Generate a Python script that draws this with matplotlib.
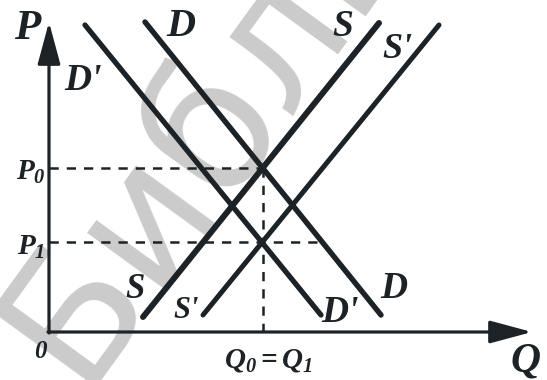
import matplotlib
matplotlib.use("Agg")
import matplotlib.pyplot as plt

# ---- data (quantity q, price p; origin of the diagram at 0,0) ----
D_q = [96, 332]
D_p = [310, 17]
D1_q = [36, 272]
D1_p = [307, 17]
S_q = [94, 330]
S_p = [15, 309]
S1_q = [154, 390]
S1_p = [17, 307]
Q0 = 214
P0 = 164
P1 = 90
P1_dash_end = 268
axis_q_max = 483
axis_p_max = 310

# labels: text, q, p, fontsize
label_text = ["D", "S", "S'", "D'", "S", "S'", "D'", "D"]
label_q = [132, 294, 348, 34, 86, 137, 291, 345]
label_p = [305, 306, 282, 252, 43, 22, 19, 44]
label_size = [29, 27, 26, 27, 25, 22, 27, 27]

ink = "#1c2226"
mpl = matplotlib
mpl.rcParams["mathtext.fontset"] = "custom"
mpl.rcParams["mathtext.rm"] = "Liberation Serif:italic:bold"
mpl.rcParams["mathtext.it"] = "Liberation Serif:italic:bold"
mpl.rcParams["mathtext.bf"] = "Liberation Serif:italic:bold"

fig = plt.figure(figsize=(5.47, 3.8), dpi=100)
ax = fig.add_axes([0, 0, 1, 1])
ax.set_xlim(-49, 498)
ax.set_ylim(-48, 332)
ax.axis("off")

# watermark
ax.text(30, -55, "Библиотека", fontsize=128, color="#cbcbcb", rotation=54,
        rotation_mode="anchor", ha="left", va="baseline",
        family="DejaVu Sans", zorder=0)

# axes with arrows
arrow_style = "-|>,head_length=2.6,head_width=0.7"
ax.annotate("", xy=(0, axis_p_max), xytext=(0, -1),
            arrowprops=dict(arrowstyle=arrow_style, lw=2.3, color=ink,
                            shrinkA=0, shrinkB=0, mutation_scale=10), zorder=3)
ax.annotate("", xy=(axis_q_max, 0), xytext=(-1, 0),
            arrowprops=dict(arrowstyle=arrow_style, lw=2.3, color=ink,
                            shrinkA=0, shrinkB=0, mutation_scale=10), zorder=3)

# dashed guides
dash = dict(color=ink, lw=1.8, dashes=(3.7, 3.2), zorder=2)
ax.plot([0, Q0], [P0, P0], **dash)
ax.plot([0, P1_dash_end], [P1, P1], **dash)
ax.plot([Q0, Q0], [P0, 0], **dash)

# curves
for q, p, w in [(D_q, D_p, 3.9), (D1_q, D1_p, 3.8), (S_q, S_p, 4.3), (S1_q, S1_p, 3.6)]:
    ax.plot(q, p, color=ink, lw=w, solid_capstyle="round", zorder=4)

font = dict(family="Liberation Serif", style="italic", weight="bold", color=ink)
for t, q, p, s in zip(label_text, label_q, label_p, label_size):
    ax.text(q, p, t, fontsize=s, ha="center", va="center", zorder=5, **font)

ax.text(-22, 303, "P", fontsize=31, ha="center", va="center", zorder=5, **font)
ax.text(-18, 160, r"$P_{0}$", fontsize=21, ha="center", va="center", zorder=5, color=ink)
ax.text(-18, 85, r"$P_{1}$", fontsize=21, ha="center", va="center", zorder=5, color=ink)
ax.text(-9, -20, "0", fontsize=18, ha="center", va="center", zorder=5, **font)
ax.text(219, -28, r"$Q_{0}{=}Q_{1}$", fontsize=21, ha="center", va="center", zorder=5, color=ink)
ax.text(477, -29, "Q", fontsize=30, ha="center", va="center", zorder=5, **font)

fig.savefig("out.png", dpi=100)
